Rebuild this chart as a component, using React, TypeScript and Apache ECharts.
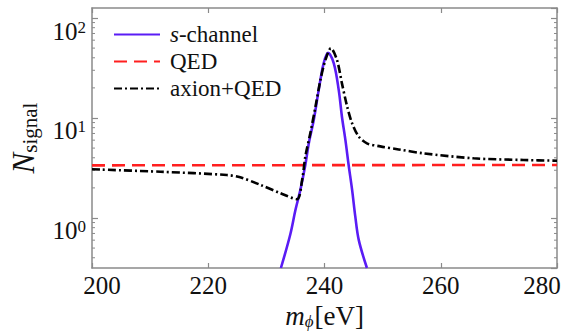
import React, { useEffect, useRef } from "react";
import * as echarts from "echarts";

const sChannelX = [232.5, 234.1, 235.0, 235.85, 236.7, 237.3, 238.15, 239.0, 239.85, 240.6, 241.6, 242.45, 243.0, 243.6, 244.15, 244.75, 245.3, 245.9, 247.3];
const sChannelY = [0.316, 0.68, 1.2, 1.91, 3.39, 5.58, 9.55, 19.0, 35.2, 45.0, 35.2, 19.0, 10.3, 6.0, 3.39, 1.91, 1.03, 0.6, 0.316];

const qedX = [200, 280];
const qedY = [3.36, 3.39];

const axionX = [200, 211.8, 223.2, 225.5, 229.0, 232.4, 235.25, 236.15, 236.7, 237.55, 238.45, 239.3, 240.15, 241.1, 242.15, 243.0, 243.9, 244.75, 245.9, 247.3, 249.6, 252.75, 257.05, 265.65, 274.25, 280];
const axionY = [3.07, 2.9, 2.69, 2.55, 2.14, 1.77, 1.54, 2.4, 4.1, 7.0, 13.0, 24.0, 38.0, 49.8, 38.0, 22.2, 13.0, 8.85, 6.5, 5.58, 5.2, 4.85, 4.43, 3.95, 3.8, 3.74];

const xTicks = [200, 220, 240, 260, 280];
const yMinorTicks = [0.4, 0.5, 0.6, 0.7, 0.8, 0.9, 2, 3, 4, 5, 6, 7, 8, 9, 20, 30, 40, 50, 60, 70, 80, 90];

const FONT = "Liberation Serif";
const GRAY = "#8a8a8a";
const INK = "#111111";

const zip = (xs: number[], ys: number[]) => xs.map((x, i) => [x, ys[i]]);

export default function App() {
  const ref = useRef<HTMLDivElement>(null);
  useEffect(() => {
    if (!ref.current) return;
    const chart = echarts.init(ref.current, undefined, { renderer: "svg" });
    const yLabel = (v: number) => {
      const l = Math.log10(v);
      const e = Math.round(l);
      if (Math.abs(l - e) > 0.01) return "";
      return `{b|10}{e|${e}}`;
    };
    const xLabel = (v: number) => {
      if (v === xTicks[0]) return `{l|${v}}`;
      if (v === xTicks[xTicks.length - 1]) return `{r|${v}}`;
      return `{c|${v}}`;
    };
    const tickFont = { fontFamily: FONT, fontSize: 25, color: INK };
    const option: any = {
      animation: false,
      backgroundColor: "#ffffff",
      grid: { left: 92, right: 8, top: 8, bottom: 65, show: false, containLabel: false, outerBoundsMode: "none" },
      legend: {
        orient: "vertical",
        left: 108,
        top: 18,
        itemWidth: 46,
        itemHeight: 14,
        itemGap: 4,
        data: ["s-channel", "QED", "axion+QED"],
        itemStyle: { color: "rgba(0,0,0,0)", borderColor: "rgba(0,0,0,0)", borderWidth: 0 },
        formatter: (name: string) => (name === "s-channel" ? "{i|s}-channel" : name),
        textStyle: {
          fontFamily: FONT,
          fontSize: 23,
          color: INK,
          padding: [0, 0, 0, 5],
          rich: {
            i: { fontFamily: FONT, fontSize: 23, fontStyle: "italic", color: INK },
          },
        },
      },
      xAxis: [
        {
          type: "value",
          min: 200,
          max: 280,
          interval: 20,
          position: "bottom",
          name: "{m|m}{s|ϕ}{b|[eV]}",
          nameLocation: "middle",
          nameGap: 30,
          nameTextStyle: {
            rich: {
              m: { fontFamily: FONT, fontSize: 27, fontStyle: "italic", color: INK, lineHeight: 28 },
              s: { fontFamily: FONT, fontSize: 17, fontStyle: "italic", color: INK, verticalAlign: "bottom", lineHeight: 17, padding: [9, 1, 0, 0] },
              b: { fontFamily: FONT, fontSize: 27, color: INK, lineHeight: 28 },
            },
          },
          axisLine: { show: true, lineStyle: { color: GRAY, width: 1.5 } },
          axisTick: { show: true, inside: true, length: 5, lineStyle: { color: GRAY, width: 1.2 } },
          axisLabel: {
            margin: 5,
            formatter: xLabel,
            rich: {
              l: { ...tickFont, padding: [0, 0, 0, 20] },
              r: { ...tickFont, padding: [0, 30, 0, 0] },
              c: { ...tickFont },
            },
          },
          splitLine: { show: false },
        },
        {
          type: "value",
          min: 200,
          max: 280,
          interval: 20,
          position: "top",
          axisLine: { show: true, lineStyle: { color: GRAY, width: 1.5 } },
          axisTick: { show: true, inside: true, length: 5, lineStyle: { color: GRAY, width: 1.2 } },
          axisLabel: { show: false },
          splitLine: { show: false },
        },
      ],
      yAxis: [
        {
          type: "log",
          logBase: 10,
          min: 0.316,
          max: 125.9,
          position: "left",
          name: "{n|N}{s|signal}",
          nameLocation: "middle",
          nameGap: 52,
          nameRotate: 90,
          nameTextStyle: {
            rich: {
              n: { fontFamily: FONT, fontSize: 31, fontStyle: "italic", color: INK, lineHeight: 34 },
              s: { fontFamily: FONT, fontSize: 21, color: INK, verticalAlign: "bottom", lineHeight: 21, padding: [12, 0, 0, 0] },
            },
          },
          axisLine: { show: true, lineStyle: { color: GRAY, width: 1.5 } },
          axisTick: { show: true, inside: true, length: 6, lineStyle: { color: GRAY, width: 1.2 } },
          axisLabel: {
            formatter: yLabel,
            showMinLabel: false,
            showMaxLabel: false,
            margin: 6,
            padding: [26, 0, 0, 0],
            rich: {
              b: { fontFamily: FONT, fontSize: 25, color: INK, lineHeight: 25 },
              e: { fontFamily: FONT, fontSize: 17, color: INK, lineHeight: 17, verticalAlign: "top" },
            },
          },
          splitLine: { show: false },
        },
        {
          type: "log",
          logBase: 10,
          min: 0.316,
          max: 125.9,
          position: "right",
          axisLine: { show: true, lineStyle: { color: GRAY, width: 1.5 } },
          axisTick: { show: true, inside: true, length: 6, lineStyle: { color: GRAY, width: 1.2 } },
          axisLabel: { show: false },
          splitLine: { show: false },
        },
      ],
      series: [
        {
          name: "minorTicks",
          type: "custom",
          xAxisIndex: 0,
          yAxisIndex: 0,
          silent: true,
          data: yMinorTicks.map((v) => [200, v]),
          renderItem: (params: any, api: any) => {
            const y = api.coord([200, api.value(1)])[1];
            const cs = params.coordSys;
            const style = { stroke: GRAY, lineWidth: 1 };
            return {
              type: "group",
              children: [
                { type: "line", shape: { x1: cs.x, y1: y, x2: cs.x + 3, y2: y }, style },
                { type: "line", shape: { x1: cs.x + cs.width - 3, y1: y, x2: cs.x + cs.width, y2: y }, style },
              ],
            };
          },
        },
        {
          name: "s-channel",
          type: "line",
          data: zip(sChannelX, sChannelY),
          showSymbol: false,
          symbol: "none",
          smooth: 0.35,
          clip: true,
          lineStyle: { color: "#5a1cf5", width: 2.6 },
          itemStyle: { color: "#5a1cf5" },
        },
        {
          name: "QED",
          type: "line",
          data: zip(qedX, qedY),
          showSymbol: false,
          symbol: "none",
          clip: true,
          lineStyle: { color: "#ff1f1f", width: 2.6, type: [13, 7] },
          itemStyle: { color: "#ff1f1f" },
        },
        {
          name: "axion+QED",
          type: "line",
          data: zip(axionX, axionY),
          showSymbol: false,
          symbol: "none",
          smooth: 0.3,
          clip: true,
          lineStyle: { color: "#000000", width: 2.6, type: [8, 3, 2, 3] },
          itemStyle: { color: "#000000" },
        },
      ],
    };
    chart.setOption(option);
    return () => chart.dispose();
  }, []);
  return <div ref={ref} style={{ position: "fixed", left: 0, top: 0, width: 565, height: 333, background: "#fff" }} />;
}
